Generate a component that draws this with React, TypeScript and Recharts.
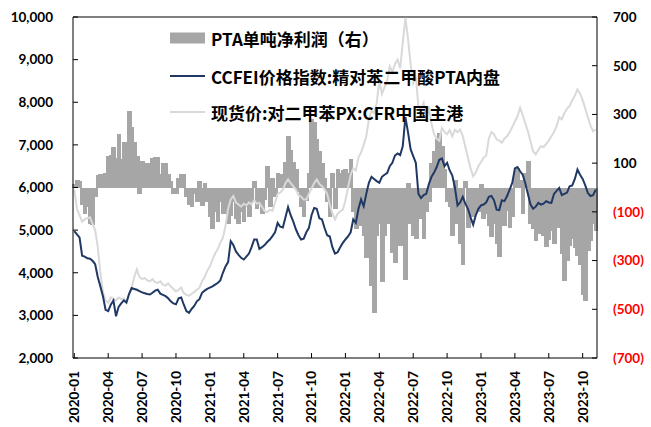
import React from 'react';
import { ComposedChart, Bar, Line, XAxis, YAxis, ReferenceLine, Legend } from 'recharts';

// Weekly PTA net profit per tonne (yuan, right axis)
const PTA_PROFIT: number[] = [
  15, 30, 25, -70, -110, -80, -150, -155, -40, 50,
  55, 50, 60, 130, 135, 165, 120, 218, 115, 185,
  160, 313, 250, 185, 130, -25, 110, 95, 100, 55,
  120, 125, 125, 55, 100, 100, 55, 28, -25, -25,
  40, 55, 55, -40, -70, -80, -25, -60, 25, -75,
  20, -60, -120, -170, -100, -140, -60, -110, -90, -150,
  -115, -60, -130, -150, -100, -140, -80, -120, -60, 25,
  -90, -70, -110, -50, 90, -80, 40, -40, 60, 55,
  20, 105, 213, 155, 105, 75, -20, -80, -120, -55,
  60, 280, 270, 200, 150, 100, 40, -60, -120, 60,
  -90, 75, 60, 70, 75, 60, 115, -100, -170, -120,
  -160, -200, -290, -250, -405, -515, -200, -150, -390, -200,
  -150, -120, -270, -310, -215, -240, -150, -380, 20, -150,
  -200, -210, -90, -130, -210, -100, -60, 100, 150, 200,
  225, 170, 75, -60, -80, -200, 30, -150, -230, -320,
  25, -165, -90, -120, -55, -100, 15, -130, -110, -160,
  -205, -150, -230, -285, -120, -160, -95, -165, -120, 55,
  80, 30, -110, 60, 110, -150, -170, -220, -190, -160,
  -200, -245, -215, -180, -230, -130, -165, -275, -385, -300,
  -240, -210, -250, -280, -320, -440, -467, -260, -220, -150,
  -180,
];

// CCFEI PTA domestic price index (yuan/t, left axis)
const PTA_PRICE: number[] = [
  4975, 4900, 4830, 4400, 4380, 4340, 4330, 4280, 4200, 3900,
  3680, 3450, 3130, 3100, 3250, 3350, 2980, 3200, 3280, 3350,
  3300, 3500, 3640, 3620, 3600, 3570, 3540, 3520, 3500, 3490,
  3530, 3580, 3600, 3510, 3480, 3450, 3400, 3330, 3280, 3260,
  3400, 3420, 3250, 3100, 3060, 3150, 3220, 3330, 3380, 3530,
  3580, 3620, 3650, 3680, 3720, 3760, 3820, 4000, 4150, 4250,
  4740, 4650, 4500, 4420, 4350, 4310, 4380, 4450, 4600, 4780,
  4780, 4560, 4600, 4650, 4720, 4780, 4860, 4950, 5170, 5080,
  5060, 5300, 5540, 5350, 5200, 5020, 4880, 4780, 4800, 4950,
  5050, 5350, 5520, 5500, 5280, 5250, 5050, 4880, 4850, 4600,
  4450, 4480, 4600, 4700, 4780, 4850, 4950, 5250, 5170, 5500,
  5720, 5560, 5850, 6110, 6250, 6200, 6150, 6110, 6250, 6300,
  6340, 6500, 6580, 6750, 6800, 6760, 6970, 7650, 7300, 6900,
  6735, 6580, 5850, 5750, 5820, 5850, 6080, 6250, 6350, 6480,
  6650, 6680, 6500, 6580, 6400, 6280, 6000, 5580, 5650, 5780,
  5620, 5500, 5300, 5130, 5350, 5500, 5580, 5600, 5650, 5780,
  5800, 5700, 5480, 5470, 5700, 5680, 5800, 5950, 6110, 6450,
  6480, 6380, 6300, 6100, 5850, 5600, 5500, 5550, 5640, 5600,
  5620, 5680, 5650, 5640, 5850, 5920, 5990, 5820, 5850, 5880,
  6030, 6050, 6200, 6420, 6300, 6200, 6050, 5870, 5800, 5820,
  5950,
];

// PX spot price, CFR China main ports (left axis)
const PX_PRICE: number[] = [
  5950, 5500, 5350, 5200, 5250, 5280, 5300, 5150, 5000, 4600,
  4000, 3550, 3350, 3300, 3420, 3380, 3350, 3420, 3380, 3400,
  3300, 3500, 3650, 3900, 4080, 3900, 3850, 3880, 3820, 3800,
  3850, 3780, 3760, 3800, 3720, 3700, 3750, 3680, 3620, 3560,
  3600, 3650, 3520, 3480, 3460, 3500, 3550, 3600, 3650, 3800,
  3900, 4050, 4150, 4300, 4450, 4550, 4700, 4820, 5100, 5500,
  5720, 5800, 5650, 5600, 5550, 5620, 5580, 5650, 5600, 5700,
  5620, 5640, 5550, 5450, 5420, 5480, 5450, 5650, 5850, 5880,
  5950, 6100, 6190, 6100, 6030, 5950, 5820, 5780, 5720, 5720,
  5850, 5980, 6100, 6190, 6080, 6030, 5950, 5850, 5600, 5400,
  5250, 5380, 5440, 5480, 5700, 6000, 6300, 6450, 6400, 6700,
  6820, 7000, 7200, 7600, 7800, 7750, 7985, 8500, 8200, 8350,
  8500, 8845, 8700, 8900, 9000, 8800, 9400, 9980, 9500, 8900,
  8450, 8600, 7900, 7830, 7985, 7600, 7900, 7500, 7250, 7150,
  7100, 7400, 7300, 7250, 7350, 7200, 7350, 7300, 7360, 7210,
  6950, 6700, 6450, 6265, 6350, 6500, 6600, 6700, 6750, 7150,
  7300, 7250, 7130, 7100, 7050, 7150, 7200, 7300, 7420, 7550,
  7670, 7870, 7700, 7500, 7320, 7080, 6850, 6780, 6880, 6970,
  6950, 7020, 7100, 7200, 7300, 7440, 7650, 7600, 7750, 7850,
  7910, 8050, 8150, 8300, 8200, 8050, 7850, 7650, 7450, 7320,
  7360,
];

// Quarterly tick labels on the date axis
const TICK_MONTHS: string[] = [
  '2020-01', '2020-04', '2020-07', '2020-10',
  '2021-01', '2021-04', '2021-07', '2021-10',
  '2022-01', '2022-04', '2022-07', '2022-10',
  '2023-01', '2023-04', '2023-07', '2023-10',
];

const LEFT_TICKS: number[] = [2000, 3000, 4000, 5000, 6000, 7000, 8000, 9000, 10000];
const RIGHT_TICKS: number[] = [-700, -500, -300, -100, 100, 300, 500, 700];

const SERIES_NAMES = {
  profit: 'PTA单吨净利润（右）',
  pta: 'CCFEI价格指数:精对苯二甲酸PTA内盘',
  px: '现货价:对二甲苯PX:CFR中国主港',
};

const COLORS = {
  profit: '#a6a6a6',
  pta: '#1f3864',
  px: '#d9d9d9',
};

const FIRST_FRIDAY = Date.UTC(2020, 0, 3);
const DAY_MS = 86400000;

// weekly observation dates (Fridays)
const WEEK_DATES: string[] = PTA_PROFIT.map((_, i) =>
  new Date(FIRST_FRIDAY + i * 7 * DAY_MS).toISOString().slice(0, 10)
);

// the weekly date nearest to the first day of each tick month
const TICK_DATES: string[] = TICK_MONTHS.map((m) => {
  const target = Date.UTC(+m.slice(0, 4), +m.slice(5, 7) - 1, 1);
  let best = WEEK_DATES[0];
  let bestGap = Infinity;
  WEEK_DATES.forEach((d) => {
    const gap = Math.abs(Date.parse(d + 'T00:00:00Z') - target);
    if (gap < bestGap) {
      bestGap = gap;
      best = d;
    }
  });
  return best;
});

const TICK_LABEL: Record<string, string> = {};
TICK_DATES.forEach((d, i) => {
  TICK_LABEL[d] = TICK_MONTHS[i];
});

const data = WEEK_DATES.map((date, i) => ({
  date,
  profit: PTA_PROFIT[i],
  pta: PTA_PRICE[i],
  px: PX_PRICE[i],
}));

const FONT = 'Lato, "Noto Sans", sans-serif';
const CJK_FONT = '"Noto Sans CJK SC", "Noto Sans", sans-serif';

// columns are drawn slightly wider than their band so neighbours touch
const ProfitBar = (props: any) => {
  const { x, y, width, height, fill } = props;
  if (x == null || y == null || !height) return null;
  const top = Math.min(y, y + height);
  return (
    <rect
      x={x - 0.8}
      y={top}
      width={width + 1.8}
      height={Math.abs(height)}
      fill={fill}
      shapeRendering="crispEdges"
    />
  );
};

const DateTick = (props: any) => {
  const { x, y, payload } = props;
  return (
    <g transform={`translate(${x},${y})`}>
      <text
        transform="rotate(-90)"
        textAnchor="end"
        dy="0.36em"
        fill="#000"
        fontSize={13.5}
        fontWeight={700}
        fontFamily={FONT}
      >
        {TICK_LABEL[payload.value] ?? ''}
      </text>
    </g>
  );
};

const RightTick = (props: any) => {
  const { x, y, payload } = props;
  const v = payload.value as number;
  return (
    <text
      x={x}
      y={y}
      dy="0.36em"
      textAnchor="start"
      fill={v < 0 ? '#ff0000' : '#000'}
      fontSize={13.5}
      fontWeight={700}
      fontFamily={FONT}
    >
      {v < 0 ? `(${Math.abs(v)})` : `${v}`}
    </text>
  );
};

const LegendBox = () => (
  <svg width={651} height={130} style={{ display: 'block', overflow: 'visible' }}>
    <rect x={170} y={32.5} width={35} height={11} fill={COLORS.profit} />
    <text x={211} y={38.5} dominantBaseline="central" fontSize={17} fontWeight={700} fontFamily={CJK_FONT} fill="#000">
      {SERIES_NAMES.profit}
    </text>
    <line x1={170} x2={205} y1={76} y2={76} stroke={COLORS.pta} strokeWidth={2} />
    <text x={211} y={76.5} dominantBaseline="central" fontSize={17} fontWeight={700} fontFamily={CJK_FONT} fill="#000">
      {SERIES_NAMES.pta}
    </text>
    <line x1={170} x2={205} y1={112} y2={112} stroke={COLORS.px} strokeWidth={2} />
    <text x={211} y={112.5} dominantBaseline="central" fontSize={17} fontWeight={700} fontFamily={CJK_FONT} fill="#000">
      {SERIES_NAMES.px}
    </text>
  </svg>
);

export default function App() {
  return (
    <div style={{ position: 'absolute', left: 0, top: 0, width: 651, height: 427, background: '#fff' }}>
      <ComposedChart
        width={651}
        height={427}
        data={data}
        margin={{ top: 17, right: 0, bottom: 0, left: 0 }}
        barCategoryGap={0}
        barGap={0}
      >
        <XAxis
          dataKey="date"
          ticks={TICK_DATES}
          interval={0}
          height={69}
          tick={<DateTick />}
          tickSize={-5}
          tickMargin={18}
          axisLine={{ stroke: '#000', strokeWidth: 1 }}
          tickLine={{ stroke: '#000', strokeWidth: 1 }}
        />
        <YAxis
          yAxisId="left"
          domain={[2000, 10000]}
          ticks={LEFT_TICKS}
          width={73}
          tickSize={-5}
          tickMargin={25}
          tickFormatter={(v: number) => v.toLocaleString('en-US')}
          tick={{ fill: '#000', fontSize: 13.5, fontWeight: 700, fontFamily: FONT }}
          axisLine={{ stroke: '#000', strokeWidth: 1 }}
          tickLine={{ stroke: '#000', strokeWidth: 1 }}
        />
        <YAxis
          yAxisId="right"
          orientation="right"
          domain={[-700, 700]}
          ticks={RIGHT_TICKS}
          width={54}
          tickSize={-5}
          tickMargin={21}
          tick={<RightTick />}
          axisLine={{ stroke: '#000', strokeWidth: 1 }}
          tickLine={{ stroke: '#000', strokeWidth: 1 }}
        />
        <ReferenceLine yAxisId="left" y={10000} stroke="#000" strokeWidth={1} />
        <Legend
          content={<LegendBox />}
          layout="vertical"
          align="center"
          verticalAlign="middle"
          wrapperStyle={{ left: 0, top: 0, width: 651, height: 130, pointerEvents: 'none' }}
        />
        <Bar
          yAxisId="right"
          dataKey="profit"
          name={SERIES_NAMES.profit}
          fill={COLORS.profit}
          shape={<ProfitBar />}
          isAnimationActive={false}
        />
        <Line
          yAxisId="left"
          dataKey="px"
          name={SERIES_NAMES.px}
          stroke={COLORS.px}
          strokeWidth={2}
          dot={false}
          type="linear"
          isAnimationActive={false}
        />
        <Line
          yAxisId="left"
          dataKey="pta"
          name={SERIES_NAMES.pta}
          stroke={COLORS.pta}
          strokeWidth={2}
          dot={false}
          type="linear"
          isAnimationActive={false}
        />
      </ComposedChart>
    </div>
  );
}
